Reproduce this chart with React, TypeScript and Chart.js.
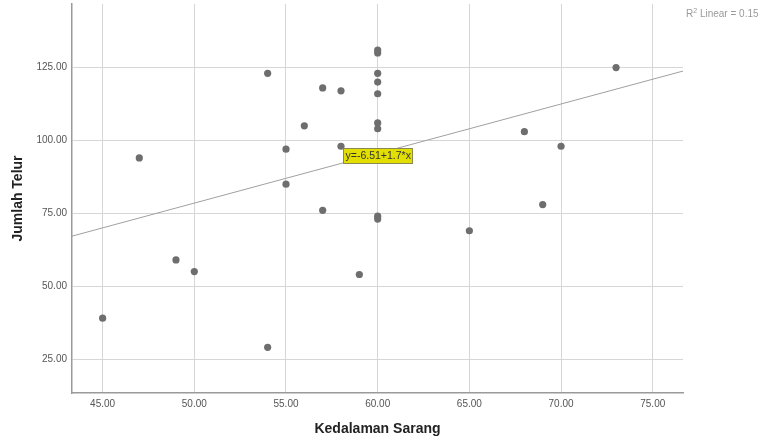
import React, { useEffect, useRef } from "react";
import { Chart, registerables } from "chart.js";

Chart.register(...registerables);

// Data
const DEPTH = [45, 47, 49, 50, 54, 54, 55, 55, 56, 57, 57, 58, 58, 59, 60, 60, 60, 60, 60, 60, 60, 60, 60, 65, 68, 69, 70, 73];
const EGGS = [39, 94, 59, 55, 123, 29, 97, 85, 105, 118, 76, 117, 98, 54, 131, 130, 123, 120, 116, 106, 104, 74, 73, 69, 103, 78, 98, 125];

const X_TICKS = [45, 50, 55, 60, 65, 70, 75];
const Y_TICKS = [25, 50, 75, 100, 125];
const X_MIN = 43.33;
const X_MAX = 76.65;
const Y_MIN = 13.34;
const Y_MAX = 146.8;

const INTERCEPT = -6.51;
const SLOPE = 1.7;
const R2_VALUE = 0.154;
const LABEL_X = 58.1;

const X_TITLE = "Kedalaman Sarang";
const Y_TITLE = "Jumlah Telur";

const FONT = '"Liberation Sans", Arial, sans-serif';

const annotationPlugin = {
  id: "spssAnnotations",
  afterDatasetsDraw(chart: any) {
    const ctx = chart.ctx as CanvasRenderingContext2D;
    const xs = chart.scales.x;
    const ys = chart.scales.y;
    ctx.save();
    // equation label
    const eq = `y=${INTERCEPT}+${SLOPE}*x`;
    const px = Math.round(xs.getPixelForValue(LABEL_X)) + 0.5;
    const py = Math.round(ys.getPixelForValue(INTERCEPT + SLOPE * LABEL_X)) + 0.5;
    ctx.font = `10.5px ${FONT}`;
    const w = Math.round(ctx.measureText(eq).width + 4);
    const h = 15;
    ctx.fillStyle = "#e2de00";
    ctx.fillRect(px, py - h, w, h);
    ctx.strokeStyle = "#8a8a50";
    ctx.lineWidth = 1;
    ctx.strokeRect(px, py - h, w, h);
    ctx.fillStyle = "#333";
    ctx.textBaseline = "middle";
    ctx.textAlign = "left";
    ctx.fillText(eq, px + 2, py - h / 2 + 0.5);

    // R² label
    ctx.fillStyle = "#9a9a9a";
    ctx.textBaseline = "alphabetic";
    let x = 686;
    const base = 17;
    ctx.font = `10px ${FONT}`;
    ctx.fillText("R", x, base);
    x += ctx.measureText("R").width;
    ctx.font = `7px ${FONT}`;
    ctx.fillText("2", x, base - 4);
    x += ctx.measureText("2").width;
    ctx.font = `10px ${FONT}`;
    ctx.fillText(` Linear = ${R2_VALUE}`, x, base);
    ctx.restore();
  },
};

export default function App() {
  const ref = useRef<HTMLCanvasElement | null>(null);

  useEffect(() => {
    if (!ref.current) return;
    const points = DEPTH.map((d, i) => ({ x: d, y: EGGS[i] }));
    const fit = [X_MIN, X_MAX].map((x) => ({ x, y: INTERCEPT + SLOPE * x }));

    const chart = new Chart(ref.current, {
      type: "scatter",
      data: {
        datasets: [
          {
            type: "line",
            data: fit,
            borderColor: "#a0a0a0",
            borderWidth: 1,
            pointRadius: 0,
            fill: false,
          } as any,
          {
            data: points,
            backgroundColor: "#6e6e6e",
            borderColor: "#6e6e6e",
            borderWidth: 0,
            pointRadius: 3.6,
          },
        ],
      },
      options: {
        animation: false,
        responsive: false,
        devicePixelRatio: 1,
        layout: { padding: { left: 0, top: 4, right: 75, bottom: 0 } },
        plugins: { legend: { display: false }, tooltip: { enabled: false } },
        scales: {
          x: {
            type: "linear",
            min: X_MIN,
            max: X_MAX,
            afterBuildTicks: (s: any) => {
              s.ticks = X_TICKS.map((value) => ({ value }));
            },
            afterFit: (s: any) => {
              s.height = 47;
              s.paddingLeft = 0;
              s.paddingRight = 0;
            },
            grid: { color: "#d6d6d6", lineWidth: 1, drawTicks: false },
            border: { color: "#9a9a9a", width: 1.5 },
            ticks: {
              padding: 5,
              color: "#555",
              font: { family: FONT, size: 10 },
              maxRotation: 0,
              autoSkip: false,
              callback: (v: any) => Number(v).toFixed(2),
            },
            title: {
              display: true,
              text: X_TITLE,
              color: "#222",
              font: { family: FONT, size: 14, weight: "bold" },
              padding: { top: 0, bottom: 2 },
            },
          },
          y: {
            type: "linear",
            min: Y_MIN,
            max: Y_MAX,
            afterBuildTicks: (s: any) => {
              s.ticks = Y_TICKS.map((value) => ({ value }));
            },
            afterFit: (s: any) => {
              s.width = 72;
              s.paddingTop = 0;
              s.paddingBottom = 0;
            },
            grid: { color: "#d6d6d6", lineWidth: 1, drawTicks: false },
            border: { color: "#9a9a9a", width: 1.5 },
            ticks: {
              padding: 5,
              color: "#555",
              font: { family: FONT, size: 10 },
              autoSkip: false,
              callback: (v: any) => Number(v).toFixed(2),
            },
            title: {
              display: true,
              text: Y_TITLE,
              color: "#222",
              font: { family: FONT, size: 14, weight: "bold" },
              padding: { top: 10, bottom: 0 },
            },
          },
        },
      } as any,
      plugins: [annotationPlugin],
    });
    return () => chart.destroy();
  }, []);

  return (
    <div style={{ position: "fixed", left: 0, top: 0, width: 758, height: 440, background: "#fff" }}>
      <canvas ref={ref} width={758} height={440} style={{ display: "block" }} />
    </div>
  );
}
